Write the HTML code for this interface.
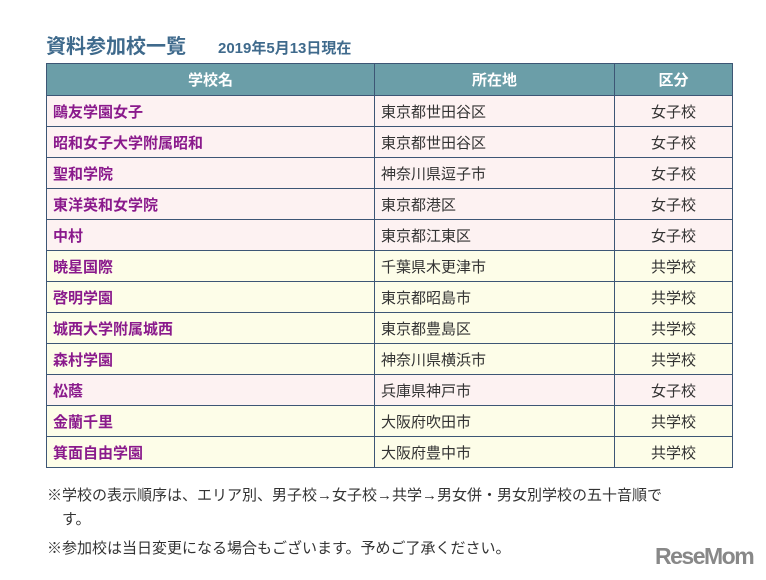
<!DOCTYPE html>
<html><head><meta charset="utf-8"><style>
body{margin:0;width:766px;height:580px;background:#fff;font-family:"Liberation Sans","Noto Sans CJK JP",sans-serif;position:relative;overflow:hidden}
h1{position:absolute;left:46px;top:30px;margin:0;font-size:20px;font-weight:bold;color:#3f6a8c;white-space:nowrap}
h1 span{font-size:15px;margin-left:32px}
table{position:absolute;left:46px;top:63px;border-collapse:collapse;width:687px;font-size:15px}
td,th{border:1px solid #3d5675;height:31px;padding:0 6px;box-sizing:border-box}
th{background:#6b9ea8;color:#fff;font-weight:bold;height:32px}
td.n{color:#8a1a8c;font-weight:bold;width:328px}
td.l{color:#333;width:240px}
td.k{color:#333;text-align:center}
tr.g td{background:#fdf2f2}
tr.c td{background:#fdfde8}
.note{position:absolute;left:47px;font-size:15px;color:#333;white-space:nowrap}
.logo{position:absolute;left:655px;top:543px;font-size:23px;font-weight:bold;color:#888;letter-spacing:-1.5px}
</style></head><body>
<h1>資料参加校一覧<span>2019年5月13日現在</span></h1>
<table>
<tr><th>学校名</th><th>所在地</th><th>区分</th></tr>
<tr class="g"><td class="n">鷗友学園女子</td><td class="l">東京都世田谷区</td><td class="k">女子校</td></tr>
<tr class="g"><td class="n">昭和女子大学附属昭和</td><td class="l">東京都世田谷区</td><td class="k">女子校</td></tr>
<tr class="g"><td class="n">聖和学院</td><td class="l">神奈川県逗子市</td><td class="k">女子校</td></tr>
<tr class="g"><td class="n">東洋英和女学院</td><td class="l">東京都港区</td><td class="k">女子校</td></tr>
<tr class="g"><td class="n">中村</td><td class="l">東京都江東区</td><td class="k">女子校</td></tr>
<tr class="c"><td class="n">暁星国際</td><td class="l">千葉県木更津市</td><td class="k">共学校</td></tr>
<tr class="c"><td class="n">啓明学園</td><td class="l">東京都昭島市</td><td class="k">共学校</td></tr>
<tr class="c"><td class="n">城西大学附属城西</td><td class="l">東京都豊島区</td><td class="k">共学校</td></tr>
<tr class="c"><td class="n">森村学園</td><td class="l">神奈川県横浜市</td><td class="k">共学校</td></tr>
<tr class="g"><td class="n">松蔭</td><td class="l">兵庫県神戸市</td><td class="k">女子校</td></tr>
<tr class="c"><td class="n">金蘭千里</td><td class="l">大阪府吹田市</td><td class="k">共学校</td></tr>
<tr class="c"><td class="n">箕面自由学園</td><td class="l">大阪府豊中市</td><td class="k">共学校</td></tr>
</table>
<div class="note" style="top:484px">※学校の表示順序は、エリア別、男子校→女子校→共学→男女併・男女別学校の五十音順で</div>
<div class="note" style="top:508px;left:62px">す。</div>
<div class="note" style="top:537px">※参加校は当日変更になる場合もございます。予めご了承ください。</div>
<div class="logo">ReseMom</div>
</body></html>
